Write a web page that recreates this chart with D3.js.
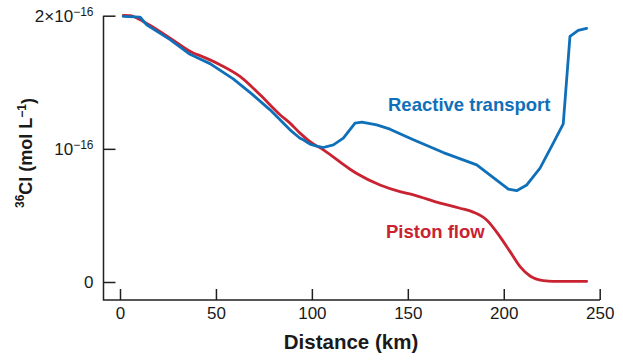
<!DOCTYPE html>
<html>
<head>
<meta charset="utf-8">
<script src="https://cdn.jsdelivr.net/npm/d3@7"></script>
<style>
  body { margin: 0; background: #fff; }
  svg { display: block; font-family: "Liberation Sans", Arial, Helvetica, sans-serif; }
</style>
</head>
<body>
<svg id="chart" width="623" height="362"></svg>
<script>
// ---- data (distance in km, 36Cl in units of 1e-16 mol/L) ----
const reactiveDistance = [1.7, 10.4, 13.9, 26.1, 36.5, 41.7, 46.9, 59.0, 68.5, 78.2, 88.6, 93.8, 95.5, 99.0, 102.5, 106.0, 111.2, 116.4, 122.5, 126.0, 133.8, 140.7, 145.9, 152.9, 168.5, 185.9, 202.4, 206.7, 212.0, 218.9, 225.8, 231.0, 234.5, 238.8, 243.2];
const reactiveValue    = [1.995, 1.99, 1.932, 1.82, 1.71, 1.675, 1.64, 1.525, 1.415, 1.293, 1.143, 1.08, 1.068, 1.035, 1.02, 1.01, 1.03, 1.08, 1.193, 1.201, 1.18, 1.148, 1.113, 1.068, 0.972, 0.88, 0.697, 0.686, 0.729, 0.855, 1.043, 1.188, 1.844, 1.889, 1.905];

const pistonDistance = [1.7, 5.2, 12.1, 26.1, 38.2, 41.7, 52.1, 62.5, 73.0, 83.4, 88.6, 93.8, 99.0, 106.0, 119.9, 123.4, 135.5, 145.9, 152.9, 166.8, 177.2, 184.1, 191.1, 198.0, 203.3, 208.5, 213.7, 220.6, 225.8, 243.2];
const pistonValue    = [2.002, 2.0, 1.957, 1.832, 1.72, 1.70, 1.632, 1.544, 1.406, 1.256, 1.193, 1.118, 1.055, 0.992, 0.847, 0.815, 0.729, 0.679, 0.654, 0.592, 0.554, 0.525, 0.466, 0.341, 0.228, 0.115, 0.045, 0.01, 0.004, 0.004];

const xTicks = [0, 50, 100, 150, 200, 250];
const yTicks = [0, 1, 2];
const yTickMantissa = ["0", "10", "2×10"];
const yTickExponent = ["", "−16", "−16"];

const seriesNames = ["Reactive transport", "Piston flow"];
const seriesColors = ["#0f70b9", "#c92231"];

// ---- layout ----
const svg = d3.select("#chart");
const axisColor = "#231f20";
const axisLeftX = 103.5, axisBottomY = 300, axisTopY = 15.7, axisRightX = 600;

const x = d3.scaleLinear().domain([0, 250]).range([120, 599.7]);
const y = d3.scaleLinear().domain([0, 2]).range([282, 15.7]);

// axis lines
svg.append("path")
  .attr("d", `M${axisLeftX},${axisTopY}V${axisBottomY}H${axisRightX}`)
  .attr("fill", "none").attr("stroke", axisColor).attr("stroke-width", 1.5);

// x axis
const gx = svg.append("g").attr("transform", `translate(0,${axisBottomY})`)
  .call(d3.axisBottom(x).tickValues(xTicks).tickSize(-11).tickPadding(7).tickFormat(d3.format("d")));
gx.select(".domain").remove();
gx.selectAll(".tick line").attr("stroke", axisColor).attr("stroke-width", 1.5);
gx.selectAll(".tick text").attr("fill", "#1a1a1a").style("font-size", "17px").style("font-family", "'Liberation Sans', Arial, sans-serif");

// y axis
const gy = svg.append("g").attr("transform", `translate(${axisLeftX},0)`)
  .call(d3.axisLeft(y).tickValues(yTicks).tickSize(-12).tickPadding(10).tickFormat(() => ""));
gy.select(".domain").remove();
gy.selectAll(".tick line").attr("stroke", axisColor).attr("stroke-width", 1.5);
gy.selectAll(".tick text").each(function(d, i) {
  const t = d3.select(this).text(null)
    .attr("fill", "#1a1a1a").style("font-size", "17px").style("font-family", "'Liberation Sans', Arial, sans-serif");
  t.append("tspan").text(yTickMantissa[i]);
  if (yTickExponent[i]) {
    t.append("tspan").attr("dy", "-0.45em").style("font-size", "12px").text(yTickExponent[i]);
  }
});

// axis titles
svg.append("text")
  .attr("x", 351).attr("y", 349)
  .attr("text-anchor", "middle")
  .style("font-size", "20.5px").style("font-weight", "bold").attr("fill", "#1a1a1a")
  .text("Distance (km)");

const yt = svg.append("text")
  .attr("transform", "translate(29,153) rotate(-90)")
  .attr("text-anchor", "middle")
  .style("font-size", "18px").style("font-weight", "bold").attr("fill", "#1a1a1a");
yt.append("tspan").attr("dy", "-0.45em").style("font-size", "12px").text("36");
yt.append("tspan").attr("dy", "0.45em").text("Cl (mol L");
yt.append("tspan").attr("dy", "-0.45em").style("font-size", "12px").text("−1");
yt.append("tspan").attr("dy", "0.45em").text(")");

// lines
const redLine = d3.line().x(d => x(d[0])).y(d => y(d[1])).curve(d3.curveMonotoneX);
const blueLine = d3.line().x(d => x(d[0])).y(d => y(d[1]));
const pistonData = pistonDistance.map((d, i) => [d, pistonValue[i]]);
const reactiveData = reactiveDistance.map((d, i) => [d, reactiveValue[i]]);

svg.append("path").datum(pistonData)
  .attr("d", redLine).attr("fill", "none")
  .attr("stroke", seriesColors[1]).attr("stroke-width", 2.8)
  .attr("stroke-linejoin", "round").attr("stroke-linecap", "round");
svg.append("path").datum(reactiveData)
  .attr("d", blueLine).attr("fill", "none")
  .attr("stroke", seriesColors[0]).attr("stroke-width", 2.8)
  .attr("stroke-linejoin", "round").attr("stroke-linecap", "round");

// series labels
svg.append("text").attr("x", 388).attr("y", 110.5)
  .style("font-size", "18.5px").style("font-weight", "bold").attr("fill", seriesColors[0])
  .text(seriesNames[0]);
svg.append("text").attr("x", 386).attr("y", 237.5)
  .style("font-size", "18.5px").style("font-weight", "bold").attr("fill", seriesColors[1])
  .text(seriesNames[1]);
</script>
</body>
</html>
